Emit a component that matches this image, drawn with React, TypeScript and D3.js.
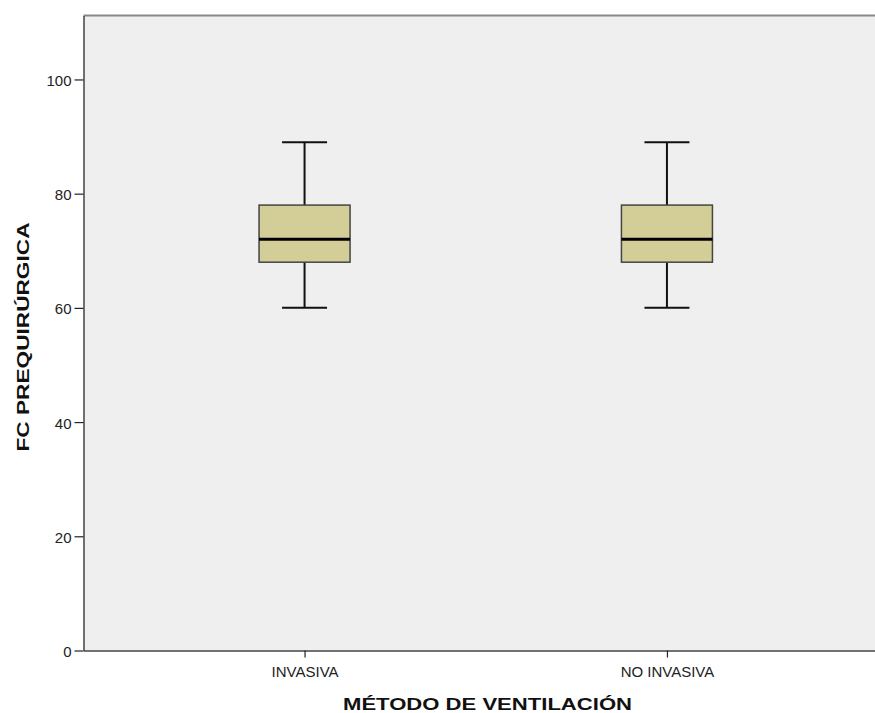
import React, { useEffect, useRef } from 'react';
import * as d3 from 'd3';

const categories = ['INVASIVA', 'NO INVASIVA'];
const whiskerLow = [60, 60];
const q1 = [68, 68];
const medians = [72, 72];
const q3 = [78, 78];
const whiskerHigh = [89, 89];
const yTicks = [0, 20, 40, 60, 80, 100];

const FONT = 'Liberation Sans, Arial, sans-serif';

const App = () => {
  const svgRef = useRef<SVGSVGElement>(null);

  useEffect(() => {
    const width = 875;
    const height = 713;
    const left = 83.5;
    const top = 15.5;
    const bottom = 650.5;

    const svg = d3.select(svgRef.current);
    svg.selectAll('*').remove();

    const y = d3.scaleLinear().domain([0, 111.2]).range([bottom, top]);
    const x = d3.scalePoint<string>().domain(categories).range([left, 888]).padding(0.61);

    // plot background
    svg.append('rect')
      .attr('x', left).attr('y', top)
      .attr('width', width - left).attr('height', bottom - top)
      .attr('fill', '#efefef');

    // top border
    svg.append('line')
      .attr('x1', left).attr('x2', width)
      .attr('y1', top).attr('y2', top)
      .attr('stroke', '#888').attr('stroke-width', 2);

    // y axis
    const yAxis = svg.append('g')
      .attr('transform', `translate(${left},0)`)
      .call(d3.axisLeft(y).tickValues(yTicks).tickSize(9).tickPadding(3).tickSizeOuter(0));
    yAxis.select('.domain').attr('stroke', '#444').attr('stroke-width', 1.5);
    yAxis.selectAll('.tick line').attr('stroke', '#222').attr('stroke-width', 1.2);
    yAxis.selectAll('text')
      .attr('font-family', FONT)
      .attr('font-size', '15px')
      .attr('dy', '0.4em')
      .attr('fill', '#222');

    // x axis
    const xAxis = svg.append('g')
      .attr('transform', `translate(0,${bottom})`)
      .call(d3.axisBottom(x).tickSize(7).tickSizeOuter(0));
    xAxis.select('.domain').attr('stroke', '#444').attr('stroke-width', 1.5);
    xAxis.selectAll('.tick line').attr('stroke', '#222').attr('stroke-width', 1.2);
    xAxis.selectAll('text')
      .attr('font-family', FONT)
      .attr('font-size', '15px')
      .attr('y', 26.5)
      .attr('dy', 0)
      .attr('fill', '#222');

    const boxW = 91;
    const capW = 45;
    const g = svg.append('g');
    categories.forEach((c, i) => {
      const cx = x(c) as number;
      // whisker lines
      g.append('line')
        .attr('x1', cx).attr('x2', cx)
        .attr('y1', y(whiskerHigh[i])).attr('y2', y(q3[i]))
        .attr('stroke', '#111').attr('stroke-width', 2);
      g.append('line')
        .attr('x1', cx).attr('x2', cx)
        .attr('y1', y(q1[i])).attr('y2', y(whiskerLow[i]))
        .attr('stroke', '#111').attr('stroke-width', 2);
      // caps
      [whiskerHigh[i], whiskerLow[i]].forEach(v => {
        g.append('line')
          .attr('x1', cx - capW / 2).attr('x2', cx + capW / 2)
          .attr('y1', y(v)).attr('y2', y(v))
          .attr('stroke', '#111').attr('stroke-width', 2);
      });
      // box
      g.append('rect')
        .attr('x', cx - boxW / 2).attr('y', y(q3[i]))
        .attr('width', boxW).attr('height', y(q1[i]) - y(q3[i]))
        .attr('fill', '#d3ce97')
        .attr('stroke', '#444').attr('stroke-width', 1.5);
      // median
      g.append('line')
        .attr('x1', cx - boxW / 2).attr('x2', cx + boxW / 2)
        .attr('y1', y(medians[i])).attr('y2', y(medians[i]))
        .attr('stroke', '#000').attr('stroke-width', 3);
    });

    // axis titles
    svg.append('text')
      .attr('x', 487.5).attr('y', 710)
      .attr('text-anchor', 'middle')
      .attr('font-family', FONT)
      .attr('font-size', '16.5px')
      .attr('font-weight', 'bold')
      .attr('fill', '#111')
      .attr('textLength', 289)
      .attr('lengthAdjust', 'spacingAndGlyphs')
      .text('MÉTODO DE VENTILACIÓN');

    svg.append('text')
      .attr('transform', 'translate(29,337) rotate(-90)')
      .attr('text-anchor', 'middle')
      .attr('font-family', FONT)
      .attr('font-size', '16.5px')
      .attr('font-weight', 'bold')
      .attr('fill', '#111')
      .attr('textLength', 229)
      .attr('lengthAdjust', 'spacingAndGlyphs')
      .text('FC PREQUIRÚRGICA');
  }, []);

  return (
    <svg
      ref={svgRef}
      width={875}
      height={713}
      style={{ position: 'absolute', top: 0, left: 0, background: 'white', display: 'block' }}
    />
  );
};

export default App;
